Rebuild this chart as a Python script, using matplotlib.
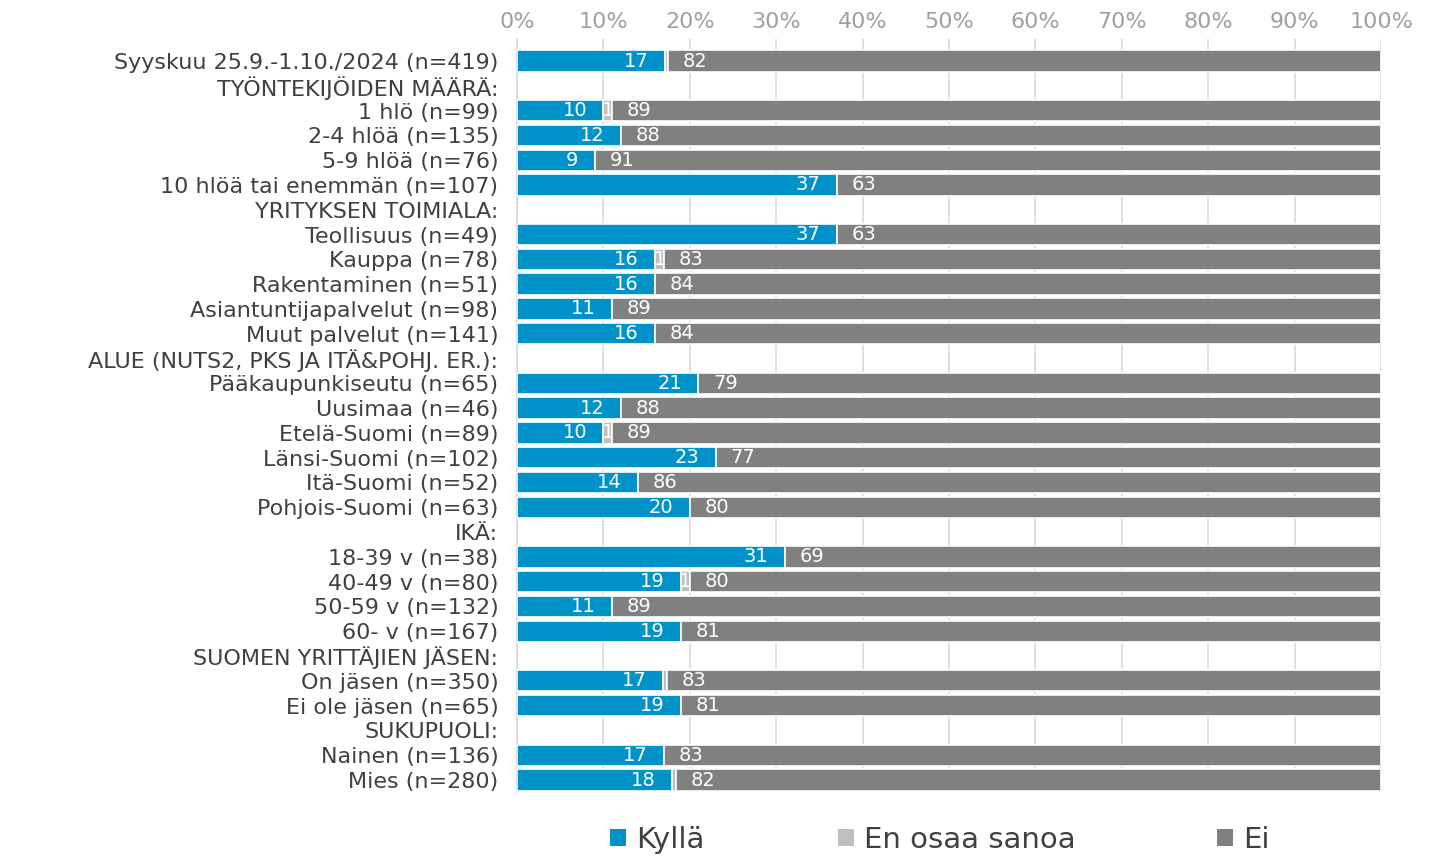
import numpy as np
import matplotlib
matplotlib.use('Agg')
import matplotlib.pyplot as plt
from matplotlib.patches import Patch

plt.rcParams['font.family'] = 'DejaVu Sans'

# rivit: None = väliotsikko ilman palkkia
categories = [
    'Syyskuu 25.9.-1.10./2024 (n=419)',
    'TYÖNTEKIJÖIDEN MÄÄRÄ:',
    '1 hlö (n=99)',
    '2-4 hlöä (n=135)',
    '5-9 hlöä (n=76)',
    '10 hlöä tai enemmän (n=107)',
    'YRITYKSEN TOIMIALA:',
    'Teollisuus (n=49)',
    'Kauppa (n=78)',
    'Rakentaminen (n=51)',
    'Asiantuntijapalvelut (n=98)',
    'Muut palvelut (n=141)',
    'ALUE (NUTS2, PKS JA ITÄ&POHJ. ER.):',
    'Pääkaupunkiseutu (n=65)',
    'Uusimaa (n=46)',
    'Etelä-Suomi (n=89)',
    'Länsi-Suomi (n=102)',
    'Itä-Suomi (n=52)',
    'Pohjois-Suomi (n=63)',
    'IKÄ:',
    '18-39 v (n=38)',
    '40-49 v (n=80)',
    '50-59 v (n=132)',
    '60- v (n=167)',
    'SUOMEN YRITTÄJIEN JÄSEN:',
    'On jäsen (n=350)',
    'Ei ole jäsen (n=65)',
    'SUKUPUOLI:',
    'Nainen (n=136)',
    'Mies (n=280)',
]

kylla = [17, None, 10, 12, 9, 37, None, 37, 16, 16, 11, 16, None, 21, 12, 10, 23, 14, 20,
         None, 31, 19, 11, 19, None, 17, 19, None, 17, 18]
eos = [0.4, None, 1, 0, 0, 0, None, 0, 1, 0, 0, 0, None, 0, 0, 1, 0, 0, 0,
       None, 0, 1, 0, 0, None, 0.4, 0, None, 0, 0.5]
ei = [82, None, 89, 88, 91, 63, None, 63, 83, 84, 89, 84, None, 79, 88, 89, 77, 86, 80,
      None, 69, 80, 89, 81, None, 83, 81, None, 83, 82]

series_names = ['Kyllä', 'En osaa sanoa', 'Ei']
colors = ['#0092C8', '#BFBFBF', '#808080']

fig = plt.figure(figsize=(14.43, 8.56), dpi=100)
ax = fig.add_axes([0.3583, 0.0743, 0.5988, 0.8805])

y = np.arange(len(categories))
for i in range(len(categories)):
    if kylla[i] is None:
        continue
    vals = [kylla[i], eos[i], ei[i]]
    total = sum(vals)
    left = 0.0
    for j, v in enumerate(vals):
        w = v / total * 100
        if w > 0:
            ax.barh(y[i], w, left=left, height=0.86, color=colors[j],
                    edgecolor='white', linewidth=1.2, zorder=3)
            lab = int(round(v))
            if lab >= 1:
                if j == 0:
                    ax.text(left + w - 1.9, y[i], str(lab), ha='right', va='center',
                            color='white', fontsize=14, zorder=4)
                elif j == 1:
                    ax.text(left + w / 2, y[i], str(lab), ha='center', va='center',
                            color='white', fontsize=14, zorder=4)
                else:
                    ax.text(left + 1.7, y[i], str(lab), ha='left', va='center',
                            color='white', fontsize=14, zorder=4)
        left += w

ax.set_xlim(0, 100)
ax.set_ylim(len(categories) - 0.5, -0.9)
ax.set_yticks(y)
ax.set_yticklabels(categories, fontsize=16, color='#404040')
ax.tick_params(axis='y', length=0, pad=13.5)
ax.set_xticks(np.arange(0, 101, 10))
ax.set_xticklabels([f'{v}%' for v in range(0, 101, 10)], fontsize=16, color='#A0A0A0')
ax.xaxis.tick_top()
ax.tick_params(axis='x', length=0, pad=5)
ax.grid(axis='x', color='#D9D9D9', linewidth=1.2, zorder=0)
for s in ax.spines.values():
    s.set_visible(False)
ax.plot([0, 0], [len(categories) - 0.5, -0.9], color='#D9D9D9', linewidth=1.2,
        zorder=1, clip_on=False)

# selite: kolme erillistä kohtaa kuten alkuperäisessä
legend_x = [0.4125, 0.5705, 0.8335]
for name, c, lx in zip(series_names, colors, legend_x):
    fig.legend([Patch(facecolor=c, edgecolor='none')], [name], loc='center left',
               bbox_to_anchor=(lx, 0.019), frameon=False, fontsize=21,
               handlelength=0.55, handleheight=0.55, handletextpad=0.35,
               borderpad=0, labelcolor='#404040')

fig.savefig('out.png', dpi=100)
